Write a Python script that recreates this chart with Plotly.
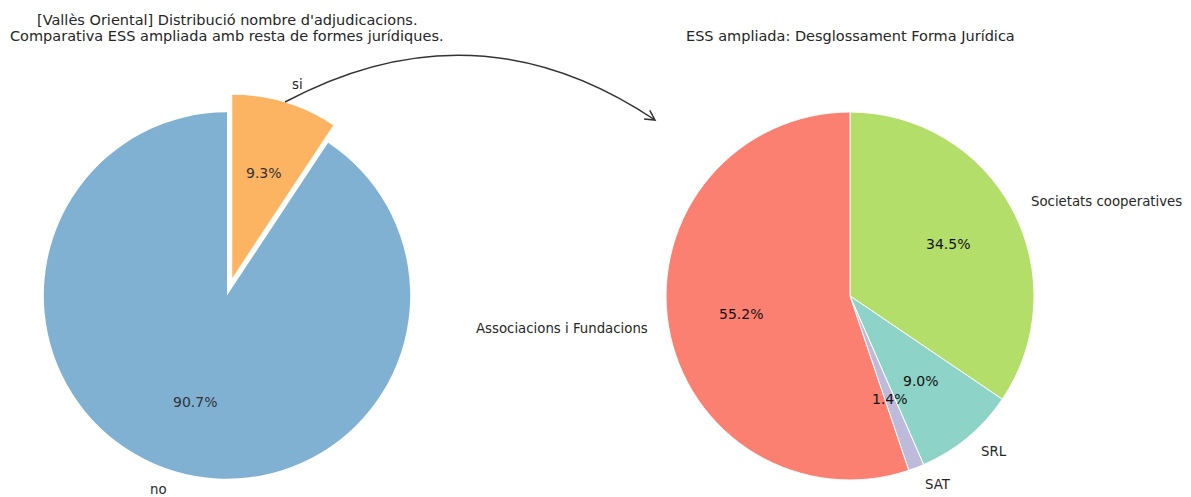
import math

import plotly.graph_objects as go

# Left pie: ESS ampliada vs resta
ess_labels = ["no", "si"]
ess_counts = [1414, 145]
ess_colors = ["#80b1d3", "#fdb462"]
ess_pull = [0.0, 0.1]

# Right pie: breakdown of ESS ampliada by legal form
forma_labels = ["Associacions i Fundacions", "SAT", "SRL", "Societats cooperatives"]
forma_counts = [80, 2, 13, 50]
forma_colors = ["#fb8072", "#bebada", "#8dd3c7", "#b3de69"]

left_title = ["[Vallès Oriental] Distribució nombre d'adjudicacions.",
              "Comparativa ESS ampliada amb resta de formes jurídiques."]
right_title = "ESS ampliada: Desglossament Forma Jurídica"

W, H = 1191, 497
FONT = "DejaVu Sans"
TEXT = "#262626"


def px(x):
    return x / W


def py(y):
    return 1 - y / H


# pie placement in window pixels (centre, half box)
left_c, left_half = (227, 296), 202
right_c, right_half = (850, 296), 184


def dom(c, half):
    return dict(x=[px(c[0] - half), px(c[0] + half)],
                y=[max(0, py(c[1] + half)), py(c[1] - half)])


def pie_texts(labels, values, c, r, pulls, pct_color):
    # slices run counterclockwise from 12 o'clock
    total = sum(values)
    anns = []
    cum = 0
    for lab, v, p in zip(labels, values, pulls):
        theta = math.radians(90 + 360 * (cum + v / 2) / total)
        cum += v
        cx = c[0] + p * r * math.cos(theta)
        cy = c[1] - p * r * math.sin(theta)
        lx = cx + 1.1 * r * math.cos(theta)
        ly = cy - 1.1 * r * math.sin(theta)
        anns.append(dict(x=px(lx), y=py(ly), text=lab, showarrow=False,
                         xanchor="left" if math.cos(theta) > 0 else "right",
                         yanchor="middle", font=dict(size=13.3, color=TEXT)))
        tx = cx + 0.6 * r * math.cos(theta)
        ty = cy - 0.6 * r * math.sin(theta)
        anns.append(dict(x=px(tx), y=py(ty), text=f"{100 * v / total:.1f}%",
                         showarrow=False, xanchor="center", yanchor="middle",
                         font=dict(size=14, color=pct_color)))
    return anns


# plotly draws clockwise from 12, so feed the slices in reverse order
fig = go.Figure()
fig.add_trace(go.Pie(
    labels=ess_labels[::-1], values=ess_counts[::-1], sort=False,
    direction="clockwise", rotation=0, pull=ess_pull[::-1],
    marker=dict(colors=ess_colors[::-1], line=dict(color="white", width=0)),
    textinfo="none", domain=dom(left_c, left_half), showlegend=False,
))
fig.add_trace(go.Pie(
    labels=forma_labels[::-1], values=forma_counts[::-1], sort=False,
    direction="clockwise", rotation=0,
    marker=dict(colors=forma_colors[::-1], line=dict(color="white", width=1)),
    textinfo="none", domain=dom(right_c, right_half), showlegend=False,
))

left_r = left_half / (1 + max(ess_pull))
right_r = right_half
annotations = pie_texts(ess_labels, ess_counts, left_c, left_r, ess_pull, "#333333")
annotations += pie_texts(forma_labels, forma_counts, right_c, right_r,
                         [0] * len(forma_counts), "#111111")

title_font = dict(size=14.5, color=TEXT)
annotations += [
    dict(x=px(227), y=py(20), text=left_title[0], showarrow=False,
         xanchor="center", yanchor="middle", font=title_font),
    dict(x=px(227), y=py(36), text=left_title[1], showarrow=False,
         xanchor="center", yanchor="middle", font=title_font),
    dict(x=px(850), y=py(36), text=right_title, showarrow=False,
         xanchor="center", yanchor="middle", font=title_font),
]

# curved connector arrow from "si" slice to the right pie
p0, ctrl, p1 = (285, 102), (476, 0), (655, 120)
tx, ty = p1[0] - ctrl[0], p1[1] - ctrl[1]
ang = math.atan2(ty, tx)
head = []
for da in (math.radians(28), -math.radians(28)):
    head.append((p1[0] - 11 * math.cos(ang + da), p1[1] - 11 * math.sin(ang + da)))
path = (f"M {px(p0[0])},{py(p0[1])} Q {px(ctrl[0])},{py(ctrl[1])} {px(p1[0])},{py(p1[1])}"
        f" M {px(head[0][0])},{py(head[0][1])} L {px(p1[0])},{py(p1[1])}"
        f" L {px(head[1][0])},{py(head[1][1])}")

fig.update_layout(
    width=W, height=H,
    margin=dict(l=0, r=0, t=0, b=0),
    paper_bgcolor="white",
    font=dict(family=FONT, color=TEXT),
    annotations=annotations,
    shapes=[dict(type="path", xref="paper", yref="paper", path=path,
                 line=dict(color="#333333", width=1.5))],
)

# drop the default 8px body margin so the figure fills the window
fig.write_html("out.html", config={"displayModeBar": False},
               post_script="document.body.style.margin = '0';")
